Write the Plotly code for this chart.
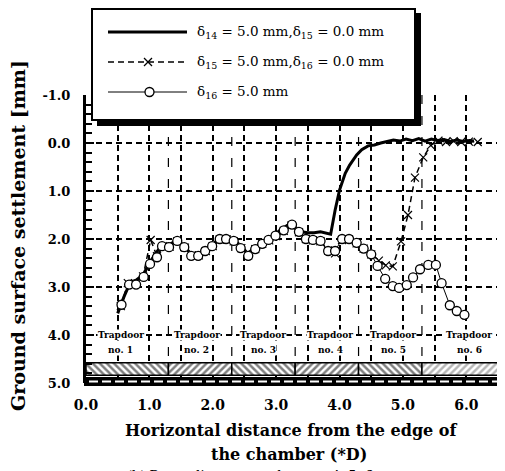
import plotly.graph_objects as go

# ---------------- data ----------------
circle_x = [0.56, 0.68, 0.79, 0.91, 1.01, 1.12, 1.20, 1.31, 1.44, 1.55, 1.66, 1.77, 1.88, 1.99,
            2.11, 2.21, 2.33, 2.44, 2.56, 2.67, 2.78, 2.88, 2.99, 3.12, 3.25, 3.36, 3.47, 3.58,
            3.70, 3.82, 3.93, 4.04, 4.15, 4.27, 4.38, 4.50, 4.60, 4.72, 4.84, 4.94, 5.06, 5.16,
            5.27, 5.40, 5.52, 5.61, 5.74, 5.85, 5.97]
circle_y = [3.37, 2.95, 2.95, 2.79, 2.52, 2.38, 2.15, 2.17, 2.04, 2.17, 2.35, 2.35, 2.25, 2.15,
            2.00, 2.00, 2.04, 2.19, 2.35, 2.21, 2.10, 2.02, 1.93, 1.82, 1.70, 1.85, 2.00, 2.02,
            2.04, 2.25, 2.25, 2.00, 2.00, 2.08, 2.20, 2.32, 2.56, 2.83, 2.98, 3.02, 2.96, 2.80,
            2.63, 2.54, 2.54, 2.92, 3.38, 3.50, 3.58]

solid_x = [0.50, 0.60, 0.70, 0.80, 0.90, 1.00, 1.10, 1.20, 1.30, 1.45, 1.55, 1.65, 1.78, 1.90,
           2.00, 2.10, 2.22, 2.33, 2.45, 2.55, 2.67, 2.78, 2.90, 3.00, 3.10, 3.22, 3.30, 3.40,
           3.50, 3.60, 3.70, 3.80, 3.86, 3.93, 4.00, 4.09, 4.16, 4.27, 4.35, 4.45, 4.55, 4.65,
           4.75, 4.85, 4.95, 5.05, 5.15, 5.25, 5.35, 5.45, 5.55, 5.65, 5.75, 5.85, 5.95, 6.05,
           6.12]
solid_y = [3.55, 3.20, 2.90, 2.85, 2.75, 2.50, 2.30, 2.12, 2.12, 2.02, 2.15, 2.30, 2.30, 2.20,
           2.12, 1.98, 1.98, 2.02, 2.15, 2.30, 2.18, 2.06, 1.98, 1.88, 1.78, 1.68, 1.75, 1.85,
           1.87, 1.87, 1.85, 1.88, 1.90, 1.40, 0.98, 0.63, 0.46, 0.25, 0.14, 0.06, 0.04, 0.00,
           -0.03, -0.06, -0.04, -0.08, -0.05, -0.09, -0.04, -0.08, -0.05, -0.07, -0.03, -0.06,
           -0.03, -0.05, -0.04]

cross_x = [0.55, 0.66, 0.78, 0.90, 1.02, 1.12, 1.22, 1.32, 1.44, 1.56, 1.67, 1.78, 1.89, 2.00,
           2.11, 2.22, 2.33, 2.45, 2.56, 2.67, 2.78, 2.89, 3.00, 3.12, 3.24, 3.36, 3.47, 3.58,
           3.70, 3.82, 3.93, 4.04, 4.15, 4.27, 4.38, 4.50, 4.62, 4.73, 4.84, 4.97, 5.08, 5.19,
           5.32, 5.44, 5.56, 5.68, 5.80, 5.92, 6.04, 6.18]
cross_y = [3.40, 2.92, 2.93, 2.78, 2.02, 2.36, 2.15, 2.16, 2.05, 2.18, 2.34, 2.34, 2.25, 2.15,
           2.01, 2.01, 2.05, 2.19, 2.34, 2.21, 2.10, 2.03, 1.94, 1.83, 1.72, 1.86, 2.00, 2.03,
           2.05, 2.24, 2.30, 2.02, 2.01, 2.09, 2.20, 2.32, 2.45, 2.55, 2.57, 2.05, 1.50, 0.72,
           0.30, 0.05, -0.05, -0.02, -0.04, -0.02, -0.03, -0.02]

trapdoor_start = [0.0, 1.3, 2.3, 3.3, 4.3, 5.3]
trapdoor_end = [1.3, 2.3, 3.3, 4.3, 5.3, 6.5]
trapdoor_label_x = [0.55, 1.75, 2.80, 3.85, 4.85, 6.05]
trapdoor_names = ["no. 1", "no. 2", "no. 3", "no. 4", "no. 5", "no. 6"]
trapdoor_hatch = ["\\", "/", "\\", "/", "\\", "/"]
trapdoor_hatch_color = ["black", "black", "black", "black", "black", "#707070"]

x_tick_vals = [0, 1, 2, 3, 4, 5, 6]
x_tick_text = ["0.0", "1.0", "2.0", "3.0", "4.0", "5.0", "6.0"]
y_tick_vals = [-1, 0, 1, 2, 3, 4, 5]
y_tick_text = ["-1.0", "0.0", "1.0", "2.0", "3.0", "4.0", "5.0"]

legend_texts = ["δ<sub>14</sub> = 5.0 mm,δ<sub>15</sub> = 0.0 mm",
                "δ<sub>15</sub> = 5.0 mm,δ<sub>16</sub> = 0.0 mm",
                "δ<sub>16</sub> = 5.0 mm"]

# ---------------- layout geometry (page pixels; page has an 8px body margin) ----------------
OFF = 8
L, R, T, B = 86, 498, 95, 383
W, H = 505 - OFF, 471 - OFF


def px(p):
    return (p - L) / (R - L)


def py(p):
    return (B - p) / (B - T)


SERIF = "DejaVu Serif"

fig = go.Figure()

# hatched trapdoor bar
fig.add_trace(go.Bar(
    x=[(s + e) / 2 for s, e in zip(trapdoor_start, trapdoor_end)],
    width=[e - s for s, e in zip(trapdoor_start, trapdoor_end)],
    y=[0.26] * len(trapdoor_start),
    base=[4.58] * len(trapdoor_start),
    marker=dict(color="white", line=dict(color="black", width=1.5),
                pattern=dict(shape=trapdoor_hatch, fgcolor=trapdoor_hatch_color,
                             bgcolor="white", size=5, solidity=0.5)),
    showlegend=False, hoverinfo="skip"))

fig.add_trace(go.Scatter(x=solid_x, y=solid_y, mode="lines",
                         line=dict(color="black", width=3), showlegend=False))
fig.add_trace(go.Scatter(x=cross_x, y=cross_y, mode="lines+markers",
                         line=dict(color="black", width=1.5, dash="6px,4px"),
                         marker=dict(symbol="x-thin-open", size=8,
                                     line=dict(color="black", width=1.2)),
                         showlegend=False))
fig.add_trace(go.Scatter(x=circle_x, y=circle_y, mode="lines+markers",
                         line=dict(color="black", width=1),
                         marker=dict(symbol="circle", size=9, color="white",
                                     line=dict(color="black", width=1.3)),
                         showlegend=False))

shapes = []
# trapdoor boundary lines
for s in trapdoor_start[1:]:
    shapes.append(dict(type="line", xref="x", yref="y", x0=s, x1=s, y0=-1, y1=4.58,
                       line=dict(color="black", width=1.2, dash="9px,12px"), layer="between"))
# right border
shapes.append(dict(type="line", xref="paper", yref="paper", x0=1, x1=1, y0=py(366), y1=1,
                   line=dict(color="black", width=1.5, dash="6px,4px"), layer="between"))
# bottom band
shapes.append(dict(type="rect", xref="paper", yref="paper", x0=px(84), x1=px(500),
                   y0=py(386), y1=py(377), fillcolor="black", line=dict(width=0), layer="above"))
shapes.append(dict(type="line", xref="paper", yref="paper", x0=px(89), x1=px(497),
                   y0=py(381.5), y1=py(381.5),
                   line=dict(color="white", width=2, dash="9px,4px"), layer="above"))

# legend box with shadow
shapes.append(dict(type="rect", xref="paper", yref="paper", x0=px(97), x1=px(421),
                   y0=py(126), y1=py(13), fillcolor="black", line=dict(width=0), layer="above"))
shapes.append(dict(type="rect", xref="paper", yref="paper", x0=px(92), x1=px(415),
                   y0=py(120), y1=py(9), fillcolor="white",
                   line=dict(color="black", width=2), layer="above"))
# legend samples
shapes.append(dict(type="line", xref="paper", yref="paper", x0=px(108), x1=px(187),
                   y0=py(32), y1=py(32), line=dict(color="black", width=3), layer="above"))
shapes.append(dict(type="line", xref="paper", yref="paper", x0=px(108), x1=px(187),
                   y0=py(62), y1=py(62), line=dict(color="black", width=1.5, dash="6px,4px"),
                   layer="above"))
shapes.append(dict(type="line", xref="paper", yref="paper", x0=px(144), x1=px(152),
                   y0=py(58), y1=py(66), line=dict(color="black", width=1.2), layer="above"))
shapes.append(dict(type="line", xref="paper", yref="paper", x0=px(144), x1=px(152),
                   y0=py(66), y1=py(58), line=dict(color="black", width=1.2), layer="above"))
shapes.append(dict(type="line", xref="paper", yref="paper", x0=px(108), x1=px(187),
                   y0=py(92), y1=py(92), line=dict(color="black", width=1), layer="above"))
shapes.append(dict(type="circle", xref="paper", yref="paper", x0=px(145), x1=px(154),
                   y0=py(96.5), y1=py(87.5), fillcolor="white",
                   line=dict(color="black", width=1.3), layer="above"))

annotations = []
for i, t in enumerate(legend_texts):
    annotations.append(dict(text=t, xref="paper", yref="paper", x=px(195), y=py(32 + 30 * i),
                            xanchor="left", yanchor="middle", showarrow=False,
                            font=dict(family=SERIF, size=13.5, color="black")))

for lx, name in zip(trapdoor_label_x, trapdoor_names):
    annotations.append(dict(text="Trapdoor", x=lx, y=4.0, xref="x", yref="y", showarrow=False,
                            bgcolor="white", borderpad=0,
                            font=dict(family=SERIF, size=9, color="black", weight="bold")))
    annotations.append(dict(text=name, x=lx, y=4.31, xref="x", yref="y", showarrow=False,
                            bgcolor="white", borderpad=0,
                            font=dict(family=SERIF, size=9, color="black", weight="bold")))

annotations.append(dict(text="Horizontal distance from the edge of", xref="paper", yref="paper",
                        x=px(291), y=py(430), showarrow=False, xanchor="center", yanchor="middle",
                        font=dict(family=SERIF, size=16, color="black", weight="bold")))
annotations.append(dict(text="the chamber (*D)", xref="paper", yref="paper",
                        x=px(289), y=py(454), showarrow=False, xanchor="center", yanchor="middle",
                        font=dict(family=SERIF, size=16, color="black", weight="bold")))
annotations.append(dict(text="(b) Depending on trapdoor no. 4, 5, 6", xref="paper", yref="paper",
                        x=px(125), y=py(466), showarrow=False, xanchor="left", yanchor="top",
                        font=dict(family=SERIF, size=13, color="black")))
annotations.append(dict(text="Ground surface settlement [mm]", xref="paper", yref="paper",
                        x=px(18), y=py(236), showarrow=False, textangle=-90,
                        xanchor="center", yanchor="middle",
                        font=dict(family=SERIF, size=19, color="black", weight="bold")))

fig.update_layout(
    width=W, height=H,
    margin=dict(l=L - OFF, r=505 - R, t=T - OFF, b=471 - B, pad=0),
    paper_bgcolor="white", plot_bgcolor="white",
    showlegend=False,
    shapes=shapes, annotations=annotations,
    xaxis=dict(range=[0, 6.5], tickvals=x_tick_vals, ticktext=x_tick_text,
               showline=False, zeroline=False, ticks="",
               showgrid=True, gridcolor="black", gridwidth=1.5, griddash="6px,4px",
               minor=dict(tick0=0, dtick=0.5, showgrid=True, gridcolor="black",
                          gridwidth=1.5, griddash="6px,4px", ticks=""),
               tickfont=dict(family=SERIF, size=14, color="black", weight="bold"),
               ticklabelstandoff=12),
    yaxis=dict(range=[5, -1], tickvals=y_tick_vals, ticktext=y_tick_text,
               showline=True, linecolor="black", linewidth=3, zeroline=False,
               ticks="inside", ticklen=8, tickwidth=2, tickcolor="black",
               minor=dict(dtick=0.2, tick0=0, ticks="inside", ticklen=6, tickwidth=2,
                          tickcolor="black", showgrid=False),
               showgrid=True, gridcolor="black", gridwidth=1.5, griddash="6px,4px",
               tickfont=dict(family=SERIF, size=13, color="black", weight="bold"),
               ticklabelstandoff=10),
)

fig.write_html("out.html")
